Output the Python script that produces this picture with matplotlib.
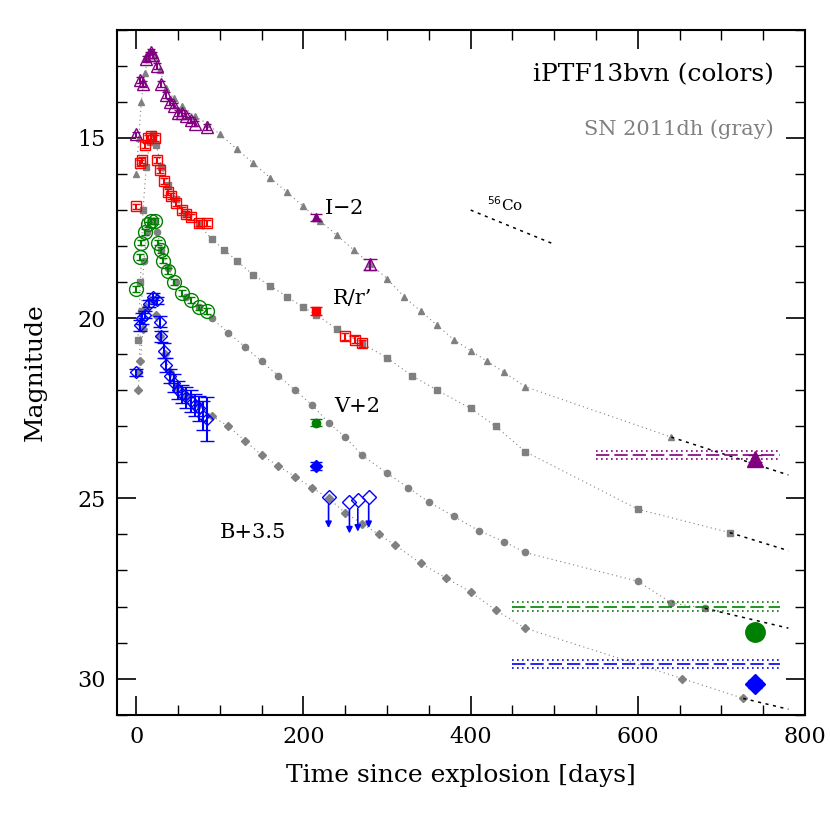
import matplotlib
matplotlib.use("Agg")
import matplotlib.pyplot as plt
from matplotlib.ticker import MultipleLocator

plt.rcParams["font.family"] = "DejaVu Serif"

# SN 2011dh (gray) reference curves
dh_I_t = [0, 3, 6, 10, 14, 18, 22, 28, 35, 45, 55, 70, 85, 100, 120, 140, 160, 180, 200, 220, 240, 260, 280, 300, 320, 340, 360, 380, 400, 420, 440, 465, 640]
dh_I_m = [16.0, 15.0, 14.0, 13.2, 12.8, 12.6, 12.7, 13.1, 13.6, 13.9, 14.1, 14.4, 14.6, 14.9, 15.3, 15.7, 16.1, 16.5, 16.9, 17.3, 17.7, 18.1, 18.5, 18.9, 19.4, 19.8, 20.2, 20.6, 20.9, 21.2, 21.5, 21.9, 23.3]
dh_R_t = [2, 5, 8, 12, 16, 20, 24, 30, 38, 48, 60, 75, 90, 105, 120, 140, 160, 180, 200, 215, 240, 270, 300, 330, 360, 400, 430, 465, 600, 710]
dh_R_m = [20.6, 19.0, 17.0, 15.8, 15.1, 14.9, 15.2, 15.8, 16.3, 16.7, 17.1, 17.4, 17.8, 18.1, 18.4, 18.8, 19.1, 19.4, 19.7, 19.9, 20.3, 20.7, 21.1, 21.6, 22.0, 22.5, 23.0, 23.7, 25.3, 25.95]
dh_V_t = [3, 6, 9, 13, 17, 21, 25, 30, 38, 48, 60, 75, 90, 110, 130, 150, 170, 190, 210, 230, 250, 270, 300, 325, 350, 380, 410, 440, 465, 600, 640, 680]
dh_V_m = [21.5, 19.8, 18.4, 17.6, 17.3, 17.3, 17.6, 18.1, 18.6, 19.0, 19.4, 19.7, 20.0, 20.4, 20.8, 21.2, 21.6, 22.0, 22.4, 22.9, 23.3, 23.8, 24.3, 24.7, 25.1, 25.5, 25.9, 26.2, 26.5, 27.3, 27.9, 28.05]
dh_B_t = [2, 5, 8, 12, 16, 20, 24, 28, 34, 40, 48, 60, 75, 90, 110, 130, 150, 170, 190, 210, 230, 250, 270, 290, 310, 340, 370, 400, 430, 465, 653, 726]
dh_B_m = [22.0, 21.2, 20.3, 19.7, 19.5, 19.5, 19.9, 20.5, 21.0, 21.5, 21.9, 22.2, 22.4, 22.7, 23.0, 23.4, 23.8, 24.1, 24.4, 24.7, 25.0, 25.4, 25.7, 26.0, 26.3, 26.8, 27.2, 27.6, 28.1, 28.6, 30.0, 30.55]
co_t = [[640, 780], [710, 780], [680, 780], [726, 780], [400, 500]]
co_m = [[23.3, 24.35], [25.95, 26.45], [28.05, 28.6], [30.55, 30.85], [17.0, 17.95]]

# iPTF13bvn (colors)
I_t = [0, 5, 8, 12, 15, 18, 20, 25, 30, 35, 40, 45, 50, 55, 60, 65, 70, 85]
I_m = [14.9, 13.4, 13.5, 12.8, 12.7, 12.6, 12.7, 13.0, 13.5, 13.8, 14.0, 14.1, 14.3, 14.3, 14.4, 14.5, 14.6, 14.7]
R_t = [0, 4, 7, 10, 14, 18, 22, 25, 28, 33, 38, 42, 48, 55, 60, 65, 75, 85]
R_m = [16.9, 15.7, 15.6, 15.2, 15.0, 14.95, 15.0, 15.6, 15.9, 16.2, 16.5, 16.6, 16.8, 17.0, 17.1, 17.2, 17.35, 17.35]
V_t = [0, 4, 6, 10, 14, 18, 22, 26, 29, 32, 38, 45, 55, 65, 75, 85]
V_m = [19.2, 18.3, 17.9, 17.6, 17.4, 17.3, 17.3, 17.9, 18.1, 18.4, 18.7, 19.0, 19.3, 19.5, 19.7, 19.8]
B_t = [0, 4, 7, 10, 15, 20, 25, 28, 30, 33, 36, 40, 45, 50, 55, 60, 65, 70, 75, 80, 85]
B_m = [21.5, 20.2, 20.0, 19.9, 19.6, 19.4, 19.5, 20.1, 20.5, 20.9, 21.3, 21.6, 21.8, 22.0, 22.1, 22.2, 22.3, 22.4, 22.5, 22.7, 22.8]
B_err = [0.1, 0.15, 0.15, 0.1, 0.1, 0.1, 0.1, 0.15, 0.15, 0.2, 0.2, 0.2, 0.25, 0.25, 0.25, 0.3, 0.3, 0.3, 0.35, 0.4, 0.6]
late_t = [215, 215, 215, 215]
late_m = [17.2, 19.8, 22.9, 24.1]
I_open_t, I_open_m = [280], [18.5]
R_open_t, R_open_m = [250, 262, 270], [20.5, 20.6, 20.7]
B_lim_t = [230, 255, 265, 278]
B_lim_m = [24.95, 25.1, 25.05, 24.95]
final_t = [740, 740, 740]
final_m = [23.9, 28.7, 30.15]
level_m = [23.8, 28.0, 29.6]
level_x0 = [550, 450, 450]

purple, red, green, blue, gray = "purple", "red", "green", "blue", "gray"

fig = plt.figure(figsize=(8.3, 8.3), dpi=100)
ax = fig.add_axes([0.141, 0.139, 0.829, 0.825])

for t, m, mk in [(dh_I_t, dh_I_m, "^"), (dh_R_t, dh_R_m, "s"), (dh_V_t, dh_V_m, "o"), (dh_B_t, dh_B_m, "D")]:
    ax.plot(t, m, color=gray, ls=(0, (1, 3)), lw=0.8, marker=mk, ms=4.5, mec=gray, mfc=gray)
for t, m in zip(co_t, co_m):
    ax.plot(t, m, color="black", ls=(0, (2, 3)), lw=1.1)

for y, x0, c in zip(level_m, level_x0, [purple, green, blue]):
    ax.plot([x0, 770], [y, y], color=c, ls=(0, (8, 3)), lw=1.2)
    ax.plot([x0, 770], [y - 0.12, y - 0.12], color=c, ls=(0, (1, 2)), lw=1.2)
    ax.plot([x0, 770], [y + 0.12, y + 0.12], color=c, ls=(0, (1, 2)), lw=1.2)

ax.errorbar(I_t, I_m, yerr=0.08, fmt="^", ms=8, mfc="none", mec=purple, ecolor=purple, capsize=3)
ax.errorbar(R_t, R_m, yerr=0.08, fmt="s", ms=7, mfc="none", mec=red, ecolor=red, capsize=3)
ax.errorbar(V_t, V_m, yerr=0.08, fmt="o", ms=10, mfc="none", mec=green, ecolor=green, capsize=3)
ax.errorbar(B_t, B_m, yerr=B_err, fmt="D", ms=6, mfc="none", mec=blue, ecolor=blue, capsize=5)

ax.errorbar(I_open_t, I_open_m, yerr=0.15, fmt="^", ms=9, mfc="none", mec=purple, ecolor=purple, capsize=5)
ax.errorbar(R_open_t, R_open_m, yerr=0.1, fmt="s", ms=7, mfc="none", mec=red, ecolor=red, capsize=3)
for t, m, mk, c in zip(late_t, late_m, ["^", "s", "o", "D"], [purple, red, green, blue]):
    ax.errorbar([t], [m], yerr=0.1, fmt=mk, ms=6, color=c, capsize=4)
for t, m in zip(B_lim_t, B_lim_m):
    ax.plot([t], [m], "D", ms=7, mfc="none", mec=blue)
    ax.annotate("", xy=(t, m + 0.95), xytext=(t, m + 0.15),
                arrowprops=dict(arrowstyle="-|>", color=blue, lw=1.2, mutation_scale=9))
for t, m, mk, c, s in zip(final_t, final_m, ["^", "o", "D"], [purple, green, blue], [12, 14, 10]):
    ax.errorbar([t], [m], yerr=0.1, fmt=mk, ms=s, color=c, capsize=5)

ax.text(225, 16.95, "I$-$2", fontsize=15, va="center")
ax.text(235, 19.45, "R/r\u2019", fontsize=15, va="center")
ax.text(237, 22.45, "V+2", fontsize=15, va="center")
ax.text(100, 25.95, "B+3.5", fontsize=15, va="center")
ax.text(420, 16.85, "$^{56}$Co", fontsize=11, va="center")
ax.text(0.955, 0.935, "iPTF13bvn (colors)", transform=ax.transAxes, ha="right", va="center", fontsize=18)
ax.text(0.955, 0.855, "SN 2011dh (gray)", transform=ax.transAxes, ha="right", va="center", fontsize=15, color=gray)

ax.set_xlim(-23, 800)
ax.set_ylim(31, 12)
ax.xaxis.set_major_locator(MultipleLocator(200))
ax.xaxis.set_minor_locator(MultipleLocator(50))
ax.yaxis.set_major_locator(MultipleLocator(5))
ax.yaxis.set_minor_locator(MultipleLocator(1))
ax.tick_params(which="both", direction="in", top=True, right=True, labelsize=16)
ax.tick_params(which="major", length=14, width=1.2, pad=8)
ax.tick_params(which="minor", length=7, width=1.0)
for s in ax.spines.values():
    s.set_linewidth(1.5)
ax.set_xlabel("Time since explosion [days]", fontsize=18, labelpad=12)
ax.set_ylabel("Magnitude", fontsize=18, labelpad=22)
fig.savefig("out.png", dpi=100)
